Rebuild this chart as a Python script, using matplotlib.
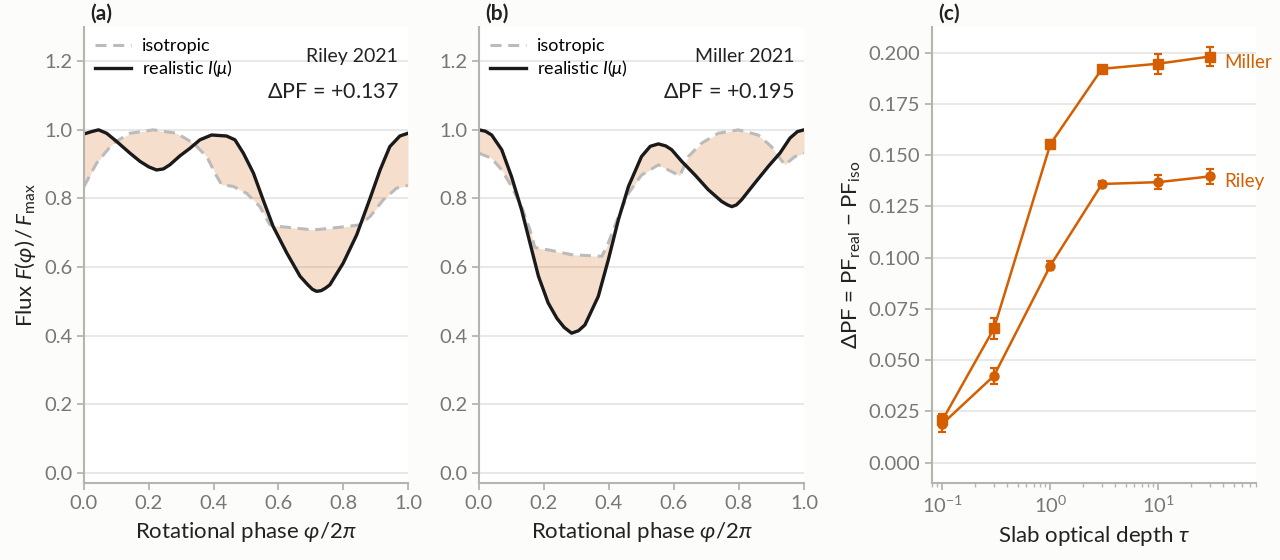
import matplotlib
matplotlib.use("Agg")
import numpy as np
import matplotlib.pyplot as plt
from matplotlib.ticker import FormatStrFormatter, LogLocator, NullFormatter

# fonts / style
plt.rcParams['font.family'] = ['Lato', 'DejaVu Sans']
plt.rcParams['mathtext.fontset'] = 'custom'
plt.rcParams['mathtext.rm'] = 'Lato'
plt.rcParams['mathtext.it'] = 'Lato:italic'
plt.rcParams['mathtext.bf'] = 'Lato:bold'
plt.rcParams['mathtext.fallback'] = 'stixsans'

ORANGE = '#d55e00'
GREY = '#bbbbbb'
SPINE = '#b5b5b0'
TICKC = '#777777'
TEXTC = '#222222'

# panel (a): Riley 2021
phase_a_iso = [0.0, 0.039, 0.09, 0.142, 0.214, 0.286, 0.338, 0.379, 0.41, 0.425, 0.461,
               0.502, 0.543, 0.574, 0.605, 0.708, 0.811, 0.852, 0.883, 0.924, 0.965, 1.0]
flux_a_iso = [0.835, 0.903, 0.961, 0.99, 1.0, 0.99, 0.961, 0.922, 0.864, 0.84, 0.835,
              0.815, 0.776, 0.723, 0.718, 0.708, 0.718, 0.723, 0.747, 0.796, 0.83, 0.838]
phase_a_real = [0.0, 0.024, 0.045, 0.07, 0.101, 0.142, 0.173, 0.2, 0.224, 0.245, 0.265,
                0.296, 0.327, 0.358, 0.394, 0.44, 0.466, 0.492, 0.523, 0.553, 0.584, 0.626,
                0.667, 0.69, 0.705, 0.718, 0.732, 0.745, 0.759, 0.8, 0.842, 0.883, 0.914,
                0.944, 0.975, 1.0]
flux_a_real = [0.988, 0.995, 1.0, 0.99, 0.966, 0.932, 0.908, 0.892, 0.883, 0.886, 0.898,
               0.924, 0.946, 0.971, 0.985, 0.982, 0.971, 0.932, 0.874, 0.796, 0.718, 0.641,
               0.573, 0.549, 0.535, 0.529, 0.531, 0.538, 0.548, 0.611, 0.694, 0.8, 0.883,
               0.951, 0.982, 0.99]

# panel (b): Miller 2021
phase_b_iso = [0.0, 0.039, 0.07, 0.1, 0.131, 0.157, 0.172, 0.213, 0.285, 0.378, 0.398,
               0.429, 0.46, 0.5, 0.552, 0.593, 0.618, 0.644, 0.685, 0.736, 0.798, 0.859,
               0.9, 0.941, 0.972, 1.0]
flux_b_iso = [0.932, 0.917, 0.883, 0.835, 0.776, 0.708, 0.657, 0.65, 0.636, 0.631, 0.67,
              0.747, 0.815, 0.868, 0.898, 0.878, 0.866, 0.922, 0.961, 0.99, 1.0, 0.985,
              0.951, 0.898, 0.922, 0.932]
phase_b_real = [0.0, 0.02, 0.039, 0.07, 0.1, 0.131, 0.157, 0.183, 0.213, 0.24, 0.262,
                0.285, 0.306, 0.326, 0.367, 0.398, 0.429, 0.46, 0.5, 0.527, 0.552, 0.575,
                0.593, 0.624, 0.665, 0.706, 0.747, 0.765, 0.778, 0.792, 0.808, 0.849, 0.89,
                0.926, 0.957, 0.98, 1.0]
flux_b_real = [1.0, 0.996, 0.985, 0.942, 0.864, 0.767, 0.67, 0.573, 0.495, 0.45, 0.424,
               0.407, 0.414, 0.431, 0.514, 0.621, 0.738, 0.835, 0.922, 0.952, 0.959, 0.953,
               0.942, 0.908, 0.868, 0.825, 0.791, 0.781, 0.776, 0.781, 0.796, 0.845, 0.893,
               0.932, 0.976, 0.995, 1.0]

# panel (c): delta PF vs slab optical depth
tau = [0.1, 0.3, 1.0, 3.0, 10.0, 30.0]
dpf_miller = [0.0207, 0.0654, 0.1554, 0.1921, 0.1946, 0.1981]
err_miller = [0.003, 0.0051, 0.002, 0.0015, 0.0049, 0.0045]
dpf_riley = [0.0189, 0.0423, 0.0961, 0.1359, 0.1368, 0.1396]
err_riley = [0.004, 0.0039, 0.002, 0.0015, 0.0034, 0.0036]


def style_axes(ax):
    ax.set_facecolor('white')
    for s in ['top', 'right']:
        ax.spines[s].set_visible(False)
    for s in ['left', 'bottom']:
        ax.spines[s].set_color(SPINE)
        ax.spines[s].set_linewidth(1.5)
    ax.tick_params(colors=SPINE, labelcolor=TICKC, labelsize=14.5, width=1.3, length=5)
    ax.tick_params(which='minor', colors=SPINE, width=1.0, length=3)
    ax.grid(axis='y', color='#e8e8e8', linewidth=1.5)
    ax.set_axisbelow(True)


fig = plt.figure(figsize=(12.8, 5.6), dpi=100, facecolor='#fcfcfa')
ax_a = fig.add_axes([0.0656, 0.1375, 0.2531, 0.8143])
ax_b = fig.add_axes([0.3742, 0.1375, 0.2539, 0.8143])
ax_c = fig.add_axes([0.7281, 0.1375, 0.2531, 0.8143])

panels = [
    (ax_a, phase_a_iso, flux_a_iso, phase_a_real, flux_a_real, 'Riley 2021', '+0.137', '(a)'),
    (ax_b, phase_b_iso, flux_b_iso, phase_b_real, flux_b_real, 'Miller 2021', '+0.195', '(b)'),
]
for ax, px_i, fx_i, px_r, fx_r, name, dpf, lab in panels:
    style_axes(ax)
    grid = np.linspace(0, 1, 401)
    iso_g = np.interp(grid, px_i, fx_i)
    real_g = np.interp(grid, px_r, fx_r)
    ax.fill_between(grid, iso_g, real_g, color=ORANGE, alpha=0.2, linewidth=0)
    ax.plot(px_i, fx_i, color=GREY, lw=2.2, dashes=(3.6, 2.2), label='isotropic')
    ax.plot(px_r, fx_r, color='#1a1a1a', lw=2.4, label=r'realistic $I(\mu)$',
            solid_joinstyle='round')
    ax.set_xlim(0, 1)
    ax.set_ylim(-0.03, 1.3)
    ax.set_xticks([0, 0.2, 0.4, 0.6, 0.8, 1.0])
    ax.set_yticks([0, 0.2, 0.4, 0.6, 0.8, 1.0, 1.2])
    ax.xaxis.set_major_formatter(FormatStrFormatter('%.1f'))
    ax.yaxis.set_major_formatter(FormatStrFormatter('%.1f'))
    ax.set_xlabel(r'Rotational phase $\varphi/2\pi$', fontsize=16, color=TEXTC, labelpad=6)
    ax.legend(loc='upper left', frameon=False, fontsize=13, handlelength=2.0,
              borderaxespad=0.2, labelspacing=0.25, handletextpad=0.6,
              bbox_to_anchor=(0.0, 1.0))
    ax.text(0.97, 0.955, name, transform=ax.transAxes, ha='right', va='top',
            fontsize=14, color=TEXTC)
    ax.text(0.97, 0.88, r'$\Delta$PF = ' + dpf, transform=ax.transAxes, ha='right',
            va='top', fontsize=15.5, color=TEXTC)
    ax.text(0.02, 1.008, lab, transform=ax.transAxes, ha='left', va='bottom',
            fontsize=15, fontweight='bold', color=TEXTC)

ax_a.set_ylabel(r'Flux $F(\varphi)\,/\,F_{\mathrm{max}}$', fontsize=16, color=TEXTC)

# panel (c)
style_axes(ax_c)
ax_c.errorbar(tau, dpf_miller, yerr=err_miller, color=ORANGE, marker='s', ms=6.5,
              lw=1.8, elinewidth=1.6, capsize=3, capthick=1.6)
ax_c.errorbar(tau, dpf_riley, yerr=err_riley, color=ORANGE, marker='o', ms=6.5,
              lw=1.8, elinewidth=1.6, capsize=3, capthick=1.6)
ax_c.annotate('Miller', (tau[-1], dpf_miller[-1]), xytext=(10, -4), textcoords='offset points',
              va='center', ha='left', fontsize=13.5, color=ORANGE)
ax_c.annotate('Riley', (tau[-1], dpf_riley[-1]), xytext=(10, -4), textcoords='offset points',
              va='center', ha='left', fontsize=13.5, color=ORANGE)
ax_c.set_xscale('log')
ax_c.set_xlim(0.08, 80)
ax_c.set_ylim(-0.01, 0.2125)
ax_c.set_yticks([0, 0.025, 0.05, 0.075, 0.1, 0.125, 0.15, 0.175, 0.2])
ax_c.yaxis.set_major_formatter(FormatStrFormatter('%.3f'))
ax_c.xaxis.set_minor_locator(LogLocator(base=10, subs=np.arange(2, 10)))
ax_c.xaxis.set_minor_formatter(NullFormatter())
ax_c.set_xlabel(r'Slab optical depth $\tau$', fontsize=16, color=TEXTC, labelpad=6)
ax_c.set_ylabel(r'$\Delta$PF = PF$_{\mathrm{real}}$ $-$ PF$_{\mathrm{iso}}$', fontsize=16,
                color=TEXTC)
ax_c.text(0.02, 1.008, '(c)', transform=ax_c.transAxes, ha='left', va='bottom',
          fontsize=15, fontweight='bold', color=TEXTC)

fig.savefig('out.png', dpi=100, facecolor=fig.get_facecolor())
